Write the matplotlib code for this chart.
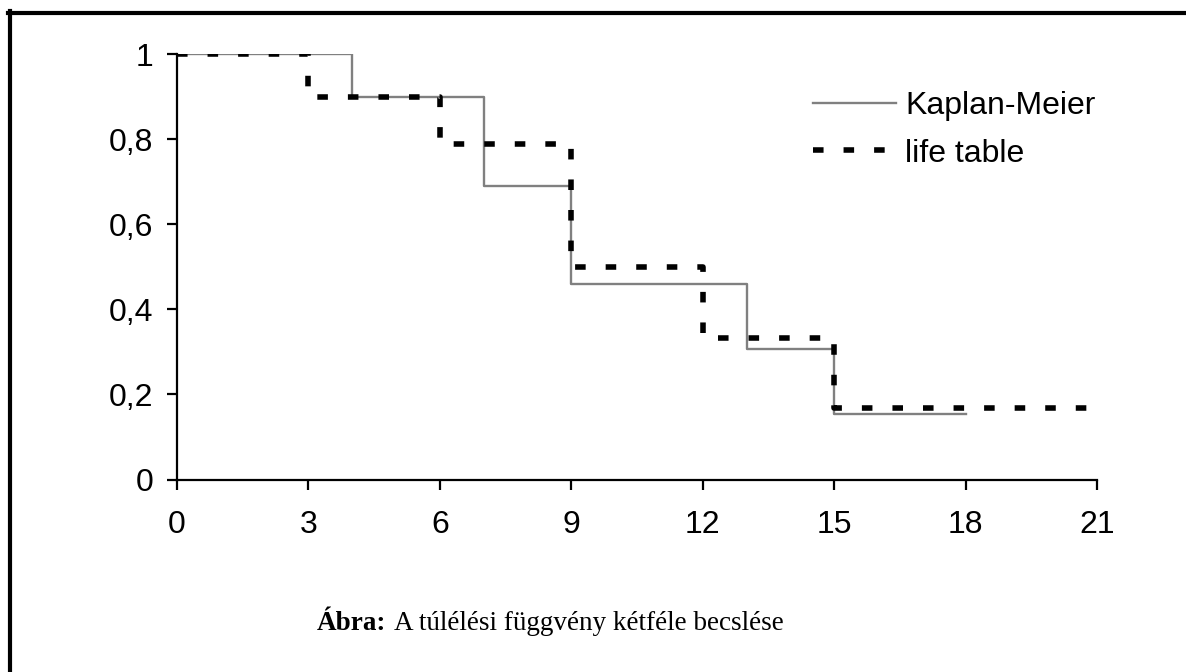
import matplotlib
matplotlib.use("Agg")
import matplotlib.pyplot as plt
from matplotlib.lines import Line2D

# Kaplan-Meier estimate (step function)
km_t = [0, 4, 7, 9, 13, 15, 18]
km_s = [1, 0.9, 0.69, 0.46, 0.307, 0.154, 0.154]

# life table estimate
lt_t = [0, 3, 6, 9, 12, 15, 21]
lt_s = [1, 0.9, 0.788, 0.5, 0.333, 0.167, 0.167]

xticks = [0, 3, 6, 9, 12, 15, 18, 21]
yticks = [0, 0.2, 0.4, 0.6, 0.8, 1]
ylabels = ["0", "0,2", "0,4", "0,6", "0,8", "1"]

W, H = 1186, 672
fig = plt.figure(figsize=(W / 100, H / 100), dpi=100)
plt.rcParams["font.family"] = ["Liberation Sans", "DejaVu Sans"]

ax = fig.add_axes([177 / W, 1 - 479.5 / H, 920 / W, 425.5 / H])
ax.step(km_t, km_s, where="post", color="#808080", lw=1.7, label="Kaplan-Meier", zorder=2)
ax.step(lt_t, lt_s, where="post", color="black", lw=4.0,
        linestyle=(0, (1.9, 3.6)), label="life table", zorder=3)

ax.set_xlim(0, 21)
ax.set_ylim(0, 1)
ax.set_xticks(xticks)
ax.set_yticks(yticks)
ax.set_yticklabels(ylabels)
for s in ["top", "right"]:
    ax.spines[s].set_visible(False)
for s in ["left", "bottom"]:
    ax.spines[s].set_linewidth(1.6)
    ax.spines[s].set_color("black")
    ax.spines[s].set_zorder(4)
ax.tick_params(axis="both", direction="out", length=7, width=1.6, labelsize=23, colors="black")
ax.tick_params(axis="x", pad=15)
ax.tick_params(axis="y", pad=10)

ax.legend(loc="upper left", bbox_to_anchor=(813 / W, 1 - 91 / H), bbox_transform=fig.transFigure,
          frameon=False, fontsize=23, handlelength=2.6, handletextpad=0.28,
          labelspacing=0.55, borderpad=0, borderaxespad=0)

# frame around the figure (only top and left visible in original)
fig.add_artist(Line2D([8 / W, 1], [1 - 13 / H, 1 - 13 / H], color="black", lw=3, transform=fig.transFigure))
fig.add_artist(Line2D([10 / W, 10 / W], [0, 1 - 11 / H], color="black", lw=3, transform=fig.transFigure))

# caption
fig.text(386 / W, 1 - 630 / H, "Ábra:", family="Liberation Serif", weight="bold",
         fontsize=19.5, ha="right", va="baseline")
fig.text(394 / W, 1 - 630 / H, "A túlélési függvény kétféle becslése", family="Liberation Serif",
         fontsize=19.5, ha="left", va="baseline")

fig.savefig("out.png", dpi=100)
